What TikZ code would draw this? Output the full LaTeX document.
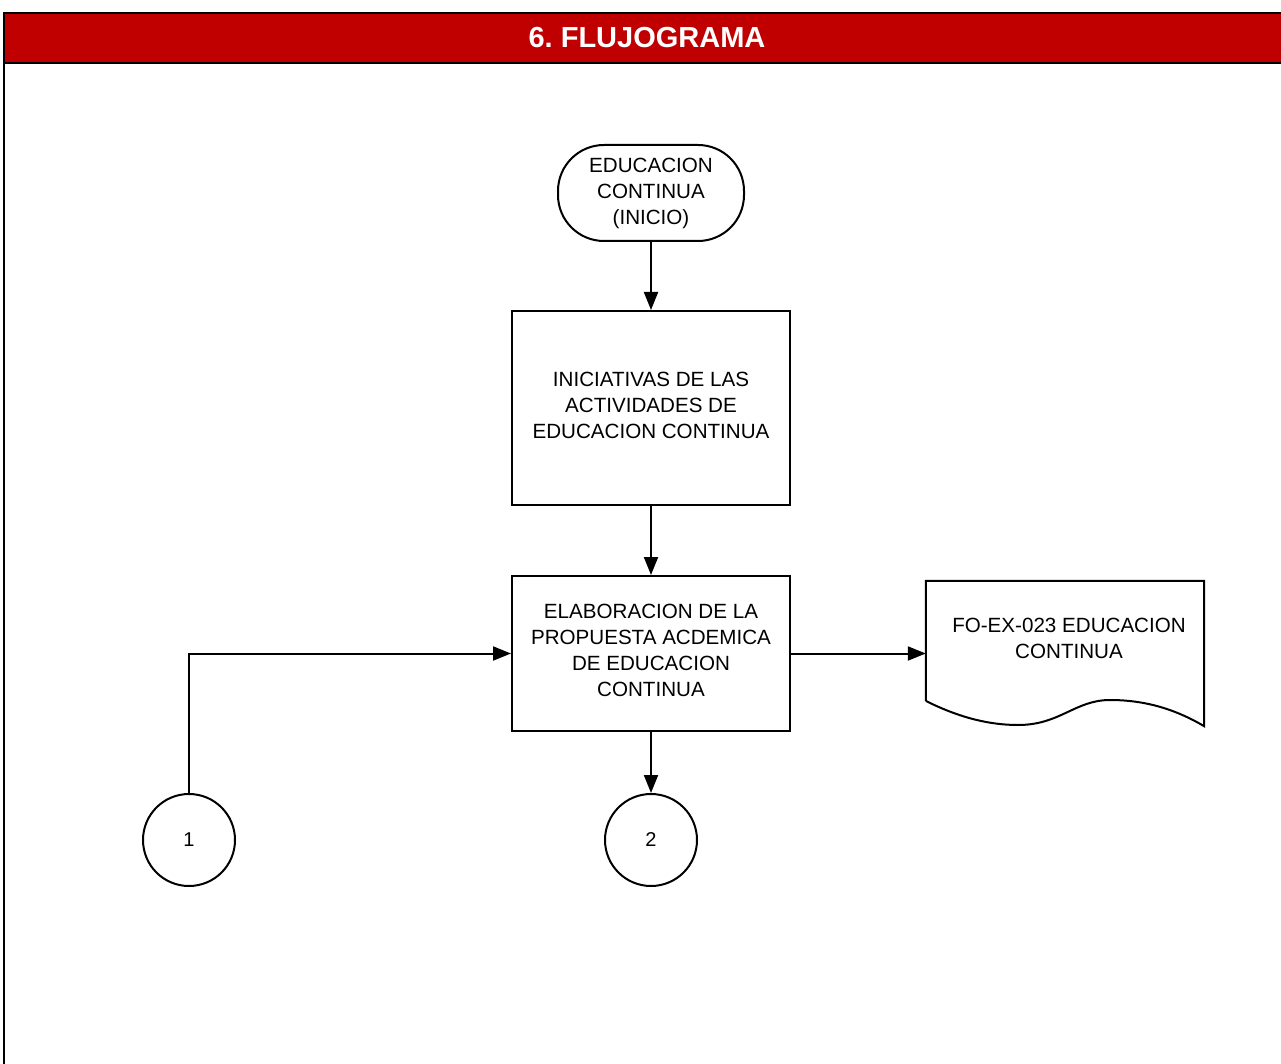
\documentclass[tikz,border=0pt]{standalone}
\usepackage{fontspec}
\setmainfont{Liberation Sans}
\usetikzlibrary{arrows.meta}
\begin{document}
\begin{tikzpicture}[x=1pt,y=-1pt,
  lbl/.style={font=\fontsize{20.6}{26}\selectfont, align=center, inner sep=0pt},
  procbox/.style={draw, line width=2pt, minimum width=278pt, inner sep=0pt},
  termbox/.style={draw, line width=2pt, rounded corners=46pt, minimum width=186pt, minimum height=96pt, inner sep=0pt},
  conn/.style={draw, circle, line width=2pt, minimum size=92pt, inner sep=0pt, font=\fontsize{20}{22}\selectfont},
  arr/.style={line width=2pt, -{Triangle[length=18pt,width=14pt]}}]
\useasboundingbox (0,0) rectangle (1281,1064);
% header
\fill[fill={rgb,255:red,192;green,0;blue,0}] (4,13) rectangle (1281,63);
\draw[line width=2pt] (3,13) -- (1281,13);
\draw[line width=2pt] (4,63) -- (1281,63);
\draw[line width=2.5pt] (4,12) -- (4,1064);
\node[font=\fontsize{29}{30}\selectfont\bfseries, text=white, inner sep=0pt] (title) at (647,38) {6.\ FLUJOGRAMA};
% nodes
\node[termbox, lbl] (start) at (651,193) {EDUCACION\\CONTINUA\\(INICIO)};
\node[procbox, minimum height=194pt] (b1) at (651,408) {};
\node[lbl] (b1t) at (651,405) {INICIATIVAS DE LAS\\ACTIVIDADES DE\\EDUCACION CONTINUA};
\node[procbox, minimum height=155pt] (b2) at (651,653.5) {};
\node[lbl] (b2t) at (651,650) {ELABORACION DE LA\\PROPUESTA ACDEMICA\\DE EDUCACION\\CONTINUA};
\node[conn] (c1) at (189,840) {1};
\node[conn] (c2) at (651,840) {2};
% document shape
\node[minimum width=278pt, minimum height=145pt, inner sep=0pt] (doc) at (1065,653.5) {};
\draw[line width=2pt] (doc.west |- 0,701) -- (doc.north west) -- (doc.north east) -- (doc.south east)
  .. controls (1180,712) and (1150,700) .. (1110,700)
  .. controls (1075,700) and (1060,725) .. (1018,725)
  .. controls (990,725) and (960,718) .. (926,701);
\node[lbl] (doct) at (1069,638) {FO-EX-023 EDUCACION\\CONTINUA};
% connectors
\draw[arr] (start.south) -- (b1.north);
\draw[arr] (b1.south) -- (b2.north);
\draw[arr] (b2.south) -- (c2.north);
\draw[arr] (c1.north) |- (b2.west);
\draw[arr] (b2.east) -- (doc.west);
\end{tikzpicture}
\end{document}
